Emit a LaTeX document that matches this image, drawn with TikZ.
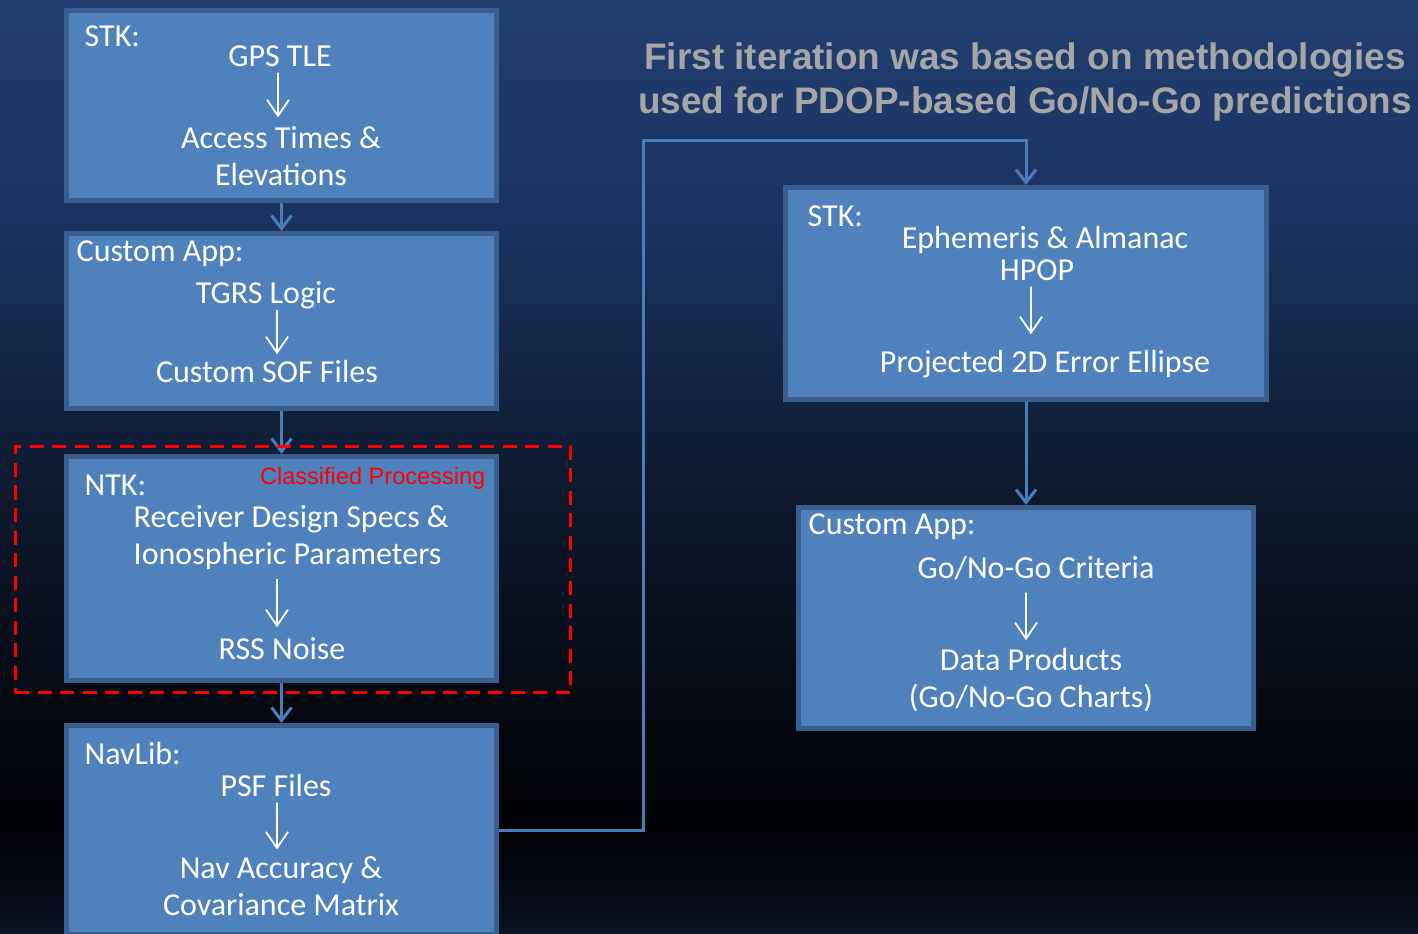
\documentclass[tikz,border=0pt]{standalone}
\usepackage{fontspec}
\setmainfont{Carlito}
\newfontfamily\titlefont{Liberation Sans}
\newfontfamily\arialfont{Liberation Sans}
\usetikzlibrary{positioning,arrows.meta,calc}

\definecolor{boxfill}{HTML}{4F81BD}
\definecolor{boxline}{HTML}{3A5F8E}
\definecolor{linkblue}{HTML}{4A7EBB}
\definecolor{titlegray}{HTML}{A6A6A6}
\definecolor{classred}{HTML}{FF0000}
\definecolor{bgA}{HTML}{213F72}
\definecolor{bgB}{HTML}{1A325E}
\definecolor{bgC}{HTML}{0F1B31}
\definecolor{bgD}{HTML}{050A13}
\definecolor{bgE}{HTML}{010205}
\definecolor{bgF}{HTML}{060B16}
\definecolor{bgG}{HTML}{0B1424}
\pgfdeclareverticalshading{slidebg}{100bp}{color(0bp)=(bgG); color(25bp)=(bgG); color(26.8bp)=(bgF); color(31bp)=(bgE); color(37.5bp)=(bgD); color(50bp)=(bgC); color(62.5bp)=(bgB); color(75bp)=(bgA); color(100bp)=(bgA)}

\begin{document}
\begin{tikzpicture}[
  x=0.01cm, y=-0.01cm,
  font=\fontsize{9.1}{10.5}\selectfont,
  box/.style={rectangle, draw=boxline, fill=boxfill, line width=0.05cm},
  txt/.style={text=white, inner sep=0pt, anchor=base, align=center, text height=0.2cm, text depth=0.06cm},
  txtml/.style={text=white, inner sep=0pt, anchor=base, align=center},
  hd/.style={text=white, inner sep=0pt, anchor=base west},
  inarrow/.style={-{Straight Barb[length=0.16cm, width=0.22cm]}, white, line width=0.018cm},
  conn/.style={-{Straight Barb[length=0.13cm, width=0.2cm]}, draw=linkblue, line width=0.03cm},
]
\useasboundingbox (0,0) rectangle (1418,933);
\clip (0,0) rectangle (1418,933);
\fill[shading=slidebg] (0,0) rectangle (1418,933);

% === Left column ===
\node[box, minimum width=4.30cm, minimum height=1.90cm] (stk1) at (281.5,105.5) {};
\node[box, minimum width=4.30cm, minimum height=1.75cm] (app1) at (281.5,321) {};
\node[box, minimum width=4.30cm, minimum height=2.24cm] (ntk) at (281.5,568.5) {};
\node[box, minimum width=4.30cm, minimum height=2.09cm] (nav) at (281.5,830) {};

% === Right column ===
\node[box, minimum width=4.81cm, minimum height=2.12cm] (stk2) at (1026,293.5) {};
\node[box, minimum width=4.55cm, minimum height=2.21cm] (app2) at (1026,618) {};

% STK (left)
\node[hd] (stk1h) at (84,46) {STK:};
\node[txt] (gps) at (280,66) {GPS TLE};
\node[txtml] (acc) at (281,185) {Access Times \&\\Elevations};
\draw[inarrow, shorten >=0.08cm] ([xshift=-0.02cm]gps.south) -- ([xshift=-0.03cm]acc.north);

% Custom App (left)
\node[hd] (app1h) at (76,261) {Custom App:};
\node[txt] (tgrs) at (266,303) {TGRS Logic};
\node[txt] (sof) at (267,382) {Custom SOF Files};
\draw[inarrow, shorten >=0.07cm] ([xshift=0.11cm]tgrs.south) -- ([xshift=0.10cm]sof.north);

% NTK
\node[hd] (ntkh) at (84,495) {NTK:};
\node[anchor=base east, inner sep=0pt, text=classred, font=\arialfont\fontsize{6.7}{8}\selectfont] (secret) at (486,484) {Classified Processing};
\node[txtml, align=left, anchor=base west] (rcv) at (133,564) {Receiver Design Specs \&\\Ionospheric Parameters};
\node[txt] (rss) at (282,659) {RSS Noise};
\draw[inarrow, shorten <=0.09cm, shorten >=0.11cm] ([xshift=-0.05cm]rss.north |- rcv.south) -- ([xshift=-0.05cm]rss.north);

% NavLib
\node[hd] (navh) at (84,764) {NavLib:};
\node[txt] (psf) at (276,796) {PSF Files};
\node[txtml] (acy) at (281,915) {Nav Accuracy \&\\Covariance Matrix};
\draw[inarrow, shorten >=0.06cm] ([xshift=0.01cm]psf.south) -- ([xshift=-0.04cm]acy.north);

% STK (right)
\node[hd] (stk2h) at (807,226) {STK:};
\node[txt] (eph) at (1045,248) {Ephemeris \& Almanac};
\node[txt] (hpop) at (1037,280) {HPOP};
\node[txt] (proj) at (1045,372) {Projected 2D Error Ellipse};
\draw[inarrow, shorten >=0.17cm] ([xshift=-0.06cm]hpop.south) -- ([xshift=-0.14cm]proj.north);

% Custom App (right)
\node[hd] (app2h) at (808,534) {Custom App:};
\node[txt] (crit) at (1036,578) {Go/No-Go Criteria};
\node[txtml] (prod) at (1031,707) {Data Products\\(Go/No-Go Charts)};
\draw[inarrow, shorten <=0.08cm, shorten >=0.07cm] ([xshift=-0.1cm]crit.south) -- ([xshift=-0.05cm]prod.north);

% === Connectors ===
\coordinate (turn) at (643,140);
\draw[conn] (stk1) -- (app1);
\draw[conn] (app1) -- (ntk);
\draw[conn] (ntk) -- (nav);
\draw[conn] (nav.east) -| (turn) -| (stk2.north);
\draw[conn] (stk2) -- (app2);

% === Classified frame ===
\node[draw=classred, line width=0.03cm, dash pattern=on 0.14cm off 0.085cm, minimum width=5.55cm, minimum height=2.46cm] (clsf) at (293,569.5) {};

% === Title ===
\node[font=\titlefont\bfseries\fontsize{10.5}{12.5}\selectfont, text=titlegray, align=center, anchor=base, inner sep=0pt] (ttl) at (1025,113)
  {First iteration was based on methodologies\\used for PDOP-based Go/No-Go predictions};

\end{tikzpicture}
\end{document}
